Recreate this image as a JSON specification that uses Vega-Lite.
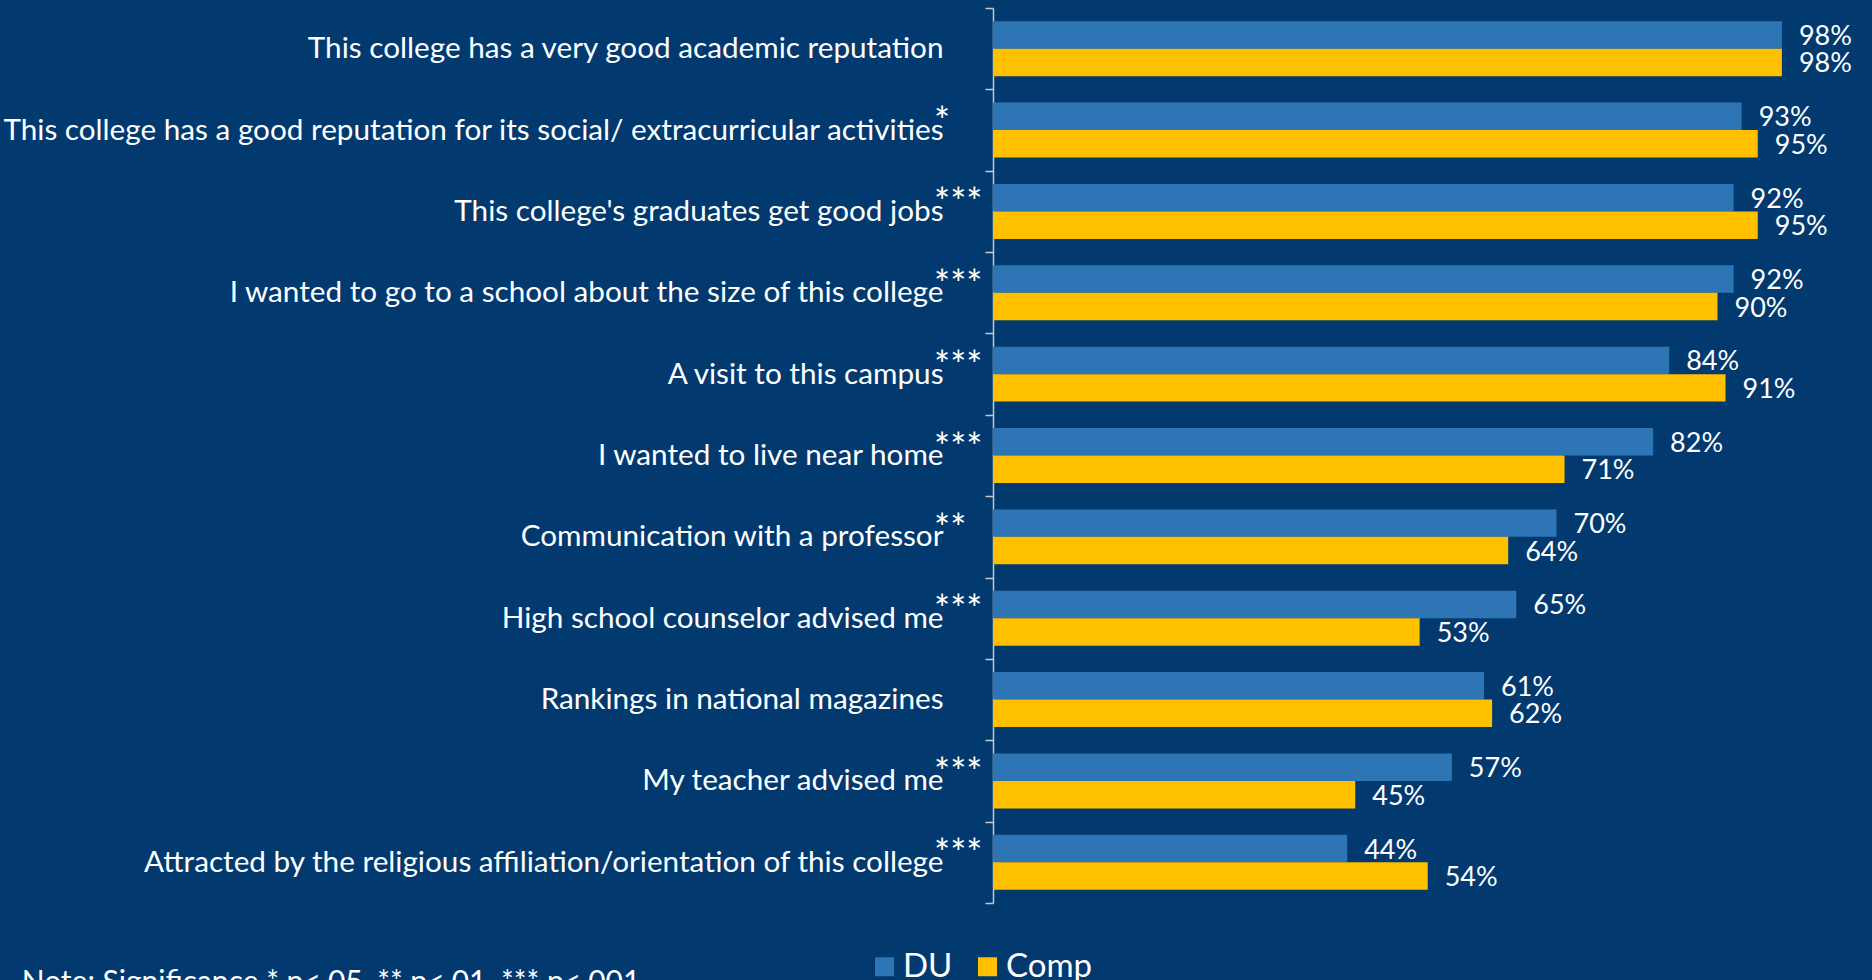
{
  "$schema": "https://vega.github.io/schema/vega-lite/v6.json",
  "width": 805,
  "height": 895,
  "autosize": {"type": "none"},
  "padding": {"left": 993, "top": 8, "right": 74, "bottom": 77},
  "background": "#023a6f",
  "config": {"view": {"stroke": null}, "font": "Lato"},
  "title": {
    "text": "Note: Significance * p<.05, ** p<.01, *** p<.001",
    "orient": "bottom",
    "anchor": "start",
    "frame": "bounds",
    "color": "white",
    "fontSize": 30,
    "font": "Lato",
    "fontWeight": "normal",
    "baseline": "top",
    "offset": 0,
    "dy": -16,
    "dx": 20
  },
  "data": {
    "values": [
      {"category": "This college has a very good academic reputation", "sig": "", "group": "DU", "value": 0.98},
      {"category": "This college has a very good academic reputation", "sig": "", "group": "Comp", "value": 0.98},
      {"category": "This college has a good reputation for its social/ extracurricular activities", "sig": "*", "group": "DU", "value": 0.93},
      {"category": "This college has a good reputation for its social/ extracurricular activities", "sig": "*", "group": "Comp", "value": 0.95},
      {"category": "This college's graduates get good jobs", "sig": "***", "group": "DU", "value": 0.92},
      {"category": "This college's graduates get good jobs", "sig": "***", "group": "Comp", "value": 0.95},
      {"category": "I wanted to go to a school about the size of this college", "sig": "***", "group": "DU", "value": 0.92},
      {"category": "I wanted to go to a school about the size of this college", "sig": "***", "group": "Comp", "value": 0.90},
      {"category": "A visit to this campus", "sig": "***", "group": "DU", "value": 0.84},
      {"category": "A visit to this campus", "sig": "***", "group": "Comp", "value": 0.91},
      {"category": "I wanted to live near home", "sig": "***", "group": "DU", "value": 0.82},
      {"category": "I wanted to live near home", "sig": "***", "group": "Comp", "value": 0.71},
      {"category": "Communication with a professor", "sig": "**", "group": "DU", "value": 0.70},
      {"category": "Communication with a professor", "sig": "**", "group": "Comp", "value": 0.64},
      {"category": "High school counselor advised me", "sig": "***", "group": "DU", "value": 0.65},
      {"category": "High school counselor advised me", "sig": "***", "group": "Comp", "value": 0.53},
      {"category": "Rankings in national magazines", "sig": "", "group": "DU", "value": 0.61},
      {"category": "Rankings in national magazines", "sig": "", "group": "Comp", "value": 0.62},
      {"category": "My teacher advised me", "sig": "***", "group": "DU", "value": 0.57},
      {"category": "My teacher advised me", "sig": "***", "group": "Comp", "value": 0.45},
      {"category": "Attracted by the religious affiliation/orientation of this college", "sig": "***", "group": "DU", "value": 0.44},
      {"category": "Attracted by the religious affiliation/orientation of this college", "sig": "***", "group": "Comp", "value": 0.54}
    ]
  },
  "encoding": {
    "y": {
      "field": "category",
      "type": "nominal",
      "sort": null,
      "scale": {"paddingInner": 0, "paddingOuter": 0},
      "axis": {
        "title": null,
        "labelFontSize": 29.7,
        "labelColor": "white",
        "labelFont": "Lato",
        "labelLimit": 1000,
        "labelPadding": 42,
        "tickSize": 8,
        "tickColor": "#c8c8c8",
        "domainColor": "#c8c8c8",
        "tickBand": "extent",
        "domainWidth": 1.5,
        "tickWidth": 1.5,
        "grid": false
      }
    }
  },
  "layer": [
    {
      "mark": {"type": "bar", "opacity": 1},
      "encoding": {
        "x": {"field": "value", "type": "quantitative", "scale": {"domain": [0, 1]}, "axis": null},
        "yOffset": {"field": "group", "type": "nominal", "sort": ["DU", "Comp"], "scale": {"paddingInner": 0, "paddingOuter": 0.48}},
        "color": {
          "field": "group",
          "type": "nominal",
          "sort": ["DU", "Comp"],
          "scale": {"domain": ["DU", "Comp"], "range": ["#2E75B6", "#FFC000"]},
          "legend": {
            "title": null,
            "orient": "none",
            "legendX": -125,
            "legendY": 942,
            "direction": "horizontal",
            "symbolType": "square",
            "symbolSize": 361,
            "symbolStrokeWidth": 0,
            "symbolOpacity": 1,
            "labelFontSize": 33,
            "labelColor": "white",
            "labelFont": "Lato",
            "labelOffset": 2,
            "columnPadding": 18,
            "padding": 0
          }
        }
      }
    },
    {
      "mark": {"type": "text", "align": "left", "baseline": "middle", "dx": 17, "dy": 2, "fontSize": 27, "font": "Lato", "color": "white"},
      "encoding": {
        "x": {"field": "value", "type": "quantitative"},
        "yOffset": {"field": "group", "type": "nominal", "sort": ["DU", "Comp"]},
        "text": {"field": "value", "type": "quantitative", "format": ".0%"}
      }
    },
    {
      "transform": [{"filter": "datum.group === 'DU' && datum.sig !== ''"}],
      "mark": {"type": "text", "align": "left", "baseline": "middle", "dx": -59, "dy": -6, "fontSize": 38, "font": "Lato", "color": "white"},
      "encoding": {
        "x": {"datum": 0, "type": "quantitative"},
        "text": {"field": "sig", "type": "nominal"}
      }
    }
  ]
}
